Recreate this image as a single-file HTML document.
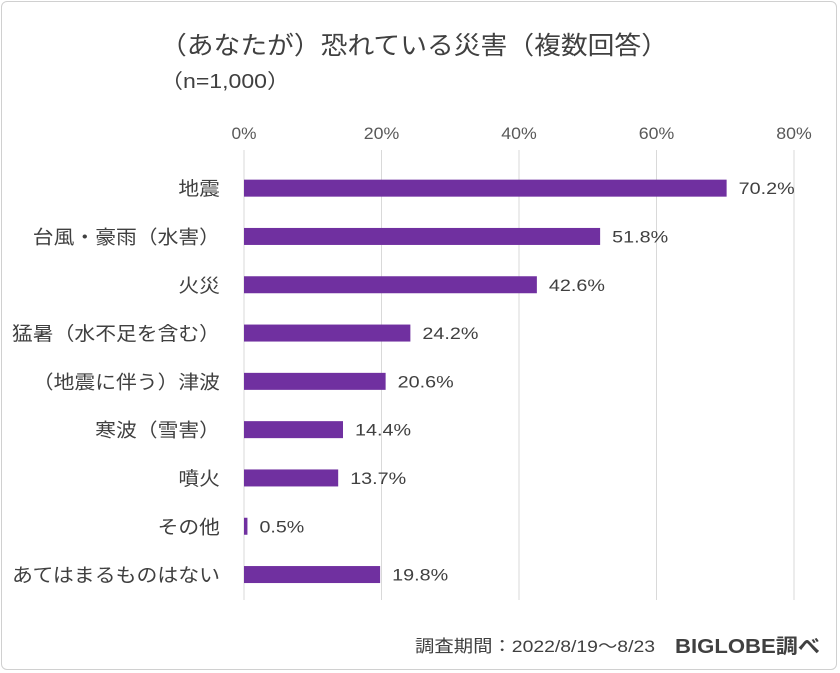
<!DOCTYPE html>
<html><head><meta charset="utf-8"><style>
body{margin:0;width:840px;height:673px;background:#fff;overflow:hidden;font-family:"Liberation Sans","Noto Sans CJK JP",sans-serif;}
#frame{position:absolute;left:1px;top:1px;width:836px;height:669px;border:1px solid #d0d0d0;border-radius:6px;box-sizing:border-box;}
</style></head><body>
<div id="frame"></div>
<svg id="chart" width="840" height="673" style="position:absolute;left:0;top:0" font-family="Liberation Sans,Noto Sans CJK JP,sans-serif">
<text x="160" y="54" font-size="25" fill="#404040" textLength="508" lengthAdjust="spacingAndGlyphs">（あなたが）恐れている災害（複数回答）</text>
<text x="160" y="88" font-size="20" fill="#404040" textLength="130" lengthAdjust="spacingAndGlyphs">（n=1,000）</text>
<g id="grid"></g><g id="bars"></g>
<text x="415" y="652" font-size="17" fill="#404040" textLength="240" lengthAdjust="spacingAndGlyphs">調査期間：2022/8/19～8/23</text>
<text x="675" y="653" font-size="20" font-weight="bold" fill="#404040" textLength="145" lengthAdjust="spacingAndGlyphs">BIGLOBE調べ</text>
</svg>
<script>
const categories=["地震","台風・豪雨（水害）","火災","猛暑（水不足を含む）","（地震に伴う）津波","寒波（雪害）","噴火","その他","あてはまるものはない"];
const values=[70.2,51.8,42.6,24.2,20.6,14.4,13.7,0.5,19.8];
const ticks=[0,20,40,60,80];
const NS="http://www.w3.org/2000/svg";
const x0=244,x1=794,vmax=80;
function xs(v){return x0+(x1-x0)*v/vmax;}
const yTop=164,step=48.3,barH=17;
function yc(i){return yTop+step*(i+0.5);}
const grid=document.getElementById('grid'),bars=document.getElementById('bars');
function mk(tag,attrs,parent,text){const e=document.createElementNS(NS,tag);for(const k in attrs)e.setAttribute(k,attrs[k]);if(text!==undefined)e.textContent=text;parent.appendChild(e);return e;}
ticks.forEach(t=>{
 const l=mk('line',{x1:xs(t),x2:xs(t),y1:150,y2:600,stroke:'#d9d9d9','stroke-width':1},grid);
 
 
 const s=t+'%';
 const tx=mk('text',{x:xs(t),y:139,'text-anchor':'middle','font-size':17,fill:'#595959',textLength:s.length*10.5+4,lengthAdjust:'spacingAndGlyphs'},grid,s);
 
 
});
categories.forEach((c,i)=>{
 const y=yc(i);
 const lb=mk('text',{x:220,y:y+7,'text-anchor':'end','font-size':19,fill:'#404040',textLength:c.length*20.8,lengthAdjust:'spacingAndGlyphs'},bars,c);
 
 
 const r=mk('rect',{x:x0,y:y-barH/2,width:Math.max(xs(values[i])-x0,1.5),height:barH,fill:'#7030a0'},bars);
 
 
 const s=values[i].toFixed(1)+'%';
 const v=mk('text',{x:xs(values[i])+12,y:y+6,'font-size':17,fill:'#404040',textLength:s.length*11.2,lengthAdjust:'spacingAndGlyphs'},bars,s);
 
 
});
</script>
</body></html>
